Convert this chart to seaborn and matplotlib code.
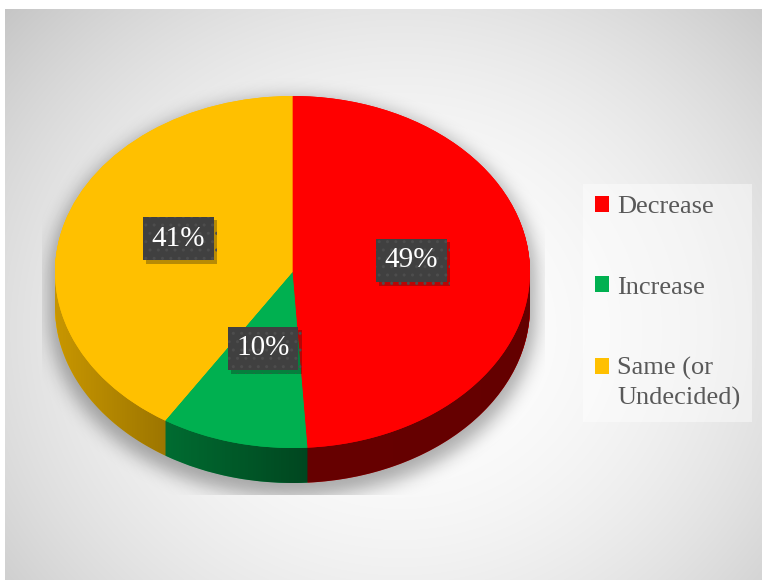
import numpy as np
import matplotlib
matplotlib.use("Agg")
import matplotlib.pyplot as plt
import matplotlib.patheffects as pe
from matplotlib.path import Path
from matplotlib.patches import PathPatch
import seaborn as sns

# ---- data -------------------------------------------------------------
categories = ["Decrease", "Increase", "Same (or\nUndecided)"]
shares = [49, 10, 41]
slice_colors = ["#ff0000", "#00b050", "#ffc000"]

sns.set_theme(style="white")
plt.rcParams["font.family"] = ["Liberation Serif", "DejaVu Serif"]

W, H = 762, 580
fig = plt.figure(figsize=(W / 100, H / 100), dpi=100, facecolor="white")

# ---- background panel with a soft radial gradient (pixel coordinates) --
bg = fig.add_axes([0, 0, 1, 1], zorder=0)
bg.axis("off")
yy, xx = np.mgrid[0:H, 0:W] + 0.5
d2 = ((xx - 400) / 420) ** 2 + ((yy - 330) / 380) ** 2
shade = np.clip(255 - 36 * d2, 0, 255) / 255.0
panel = np.dstack([shade] * 3)[9:, 5:]
bg.imshow(panel, extent=(5, W, H, 9), interpolation="bilinear", zorder=0)

# pie geometry on the page
cx, cy, rx, ry, depth_px = 292.5, 272.0, 237.5, 176.0, 35.0


def blur(a, s):
    r = int(3 * s)
    k = np.exp(-0.5 * (np.arange(-r, r + 1) / s) ** 2)
    k /= k.sum()
    a = np.apply_along_axis(lambda v: np.convolve(v, k, mode="same"), 0, a)
    a = np.apply_along_axis(lambda v: np.convolve(v, k, mode="same"), 1, a)
    return a


# soft drop shadow under the disc, clipped to the plot area
grow, drop = 6.0, 8.0
top_e = ((xx - cx) / (rx + grow)) ** 2 + ((yy - cy - drop) / (ry + grow)) ** 2 <= 1
bot_e = ((xx - cx) / (rx + grow)) ** 2 + ((yy - cy - drop - depth_px) / (ry + grow)) ** 2 <= 1
band = (np.abs(xx - cx) <= rx + grow) & (yy >= cy + drop) & (yy <= cy + drop + depth_px)
mask = blur((top_e | bot_e | band).astype(float), 9.0)
mask[(xx < 42) | (xx > 545) | (yy > 495)] = 0
shadow = np.zeros((H, W, 4))
shadow[..., 3] = 0.32 * mask
bg.imshow(shadow, extent=(0, W, H, 0), interpolation="bilinear", zorder=1)
bg.set_aspect("auto")
bg.set_xlim(0, W)
bg.set_ylim(H, 0)

# ---- pie axes: unit circle stretched into the tilted ellipse -------------
depth = depth_px / ry
xlim = (-1.1, 1.1)
ylim = (-1 - depth - 0.1, 1.1)
left_px, right_px = cx + xlim[0] * rx, cx + xlim[1] * rx
top_px, bottom_px = cy - ylim[1] * ry, cy - ylim[0] * ry
ax = fig.add_axes([left_px / W, 1 - bottom_px / H,
                   (right_px - left_px) / W, (bottom_px - top_px) / H], zorder=1)

# side wall: stacked copies of the pie stepping down by the disc thickness
n_layers = 70
for i in range(n_layers + 1):
    off = -depth * (1 - i / n_layers)
    ax.pie(shares, colors=slice_colors, startangle=90, counterclock=False,
           center=(0, off), wedgeprops=dict(linewidth=0, zorder=1))

# lighting on the side wall: brighter on the left, darker towards the right
t = np.linspace(np.pi, 2 * np.pi, 200)
upper = np.column_stack([np.cos(t), np.sin(t)])
lower = np.column_stack([np.cos(t[::-1]), np.sin(t[::-1]) - depth])
side_path = Path(np.vstack([upper, lower, upper[:1]]), closed=True)
side_patch = PathPatch(side_path, transform=ax.transData, facecolor="none", edgecolor="none")
ax.add_patch(side_patch)
gx = np.linspace(-1, 1, 400)
keep = np.interp(gx, [-1.0, 0.05, 1.0], [0.78, 0.40, 0.39])
light = np.zeros((1, gx.size, 4))
light[0, :, 3] = 1 - keep
im = ax.imshow(light, extent=(-1, 1, -1 - depth, 0), aspect="auto",
               interpolation="bilinear", zorder=2)
im.set_clip_path(side_patch)

# top face with percentage labels
wedges, _, autotexts = ax.pie(
    shares, colors=slice_colors, startangle=90, counterclock=False,
    autopct=lambda p: f"{p:.0f}%", pctdistance=0.5,
    wedgeprops=dict(linewidth=0, zorder=3),
    textprops=dict(color="white", fontsize=21, zorder=6),
)
for txt in autotexts:
    x, y = txt.get_position()
    txt.set_position((x, y + 0.05))
    txt.set_bbox(dict(boxstyle="square,pad=0.3", facecolor="#404040",
                      edgecolor="#4d4d4d", linewidth=0, hatch=".."))
    txt.get_bbox_patch().set_path_effects(
        [pe.SimplePatchShadow(offset=(2.5, -2.5), alpha=0.3), pe.Normal()])

ax.set_aspect("auto")
ax.set_xlim(*xlim)
ax.set_ylim(*ylim)
ax.set_frame_on(False)
ax.set_xticks([])
ax.set_yticks([])

# ---- legend ---------------------------------------------------------------
leg = ax.legend(
    wedges, categories, loc="upper left",
    bbox_to_anchor=(583 / W, 1 - 184 / H), bbox_transform=fig.transFigure,
    frameon=True, fancybox=False, facecolor="white", edgecolor="none",
    framealpha=0.45, fontsize=19, labelcolor="#595959",
    handlelength=0.55, handleheight=0.55, handletextpad=0.3,
    labelspacing=2.2, borderpad=0.45, borderaxespad=0,
)
for txt in leg.get_texts():
    txt.set_linespacing(1.4)
leg.set_zorder(10)
h3 = leg.legend_handles[2]
h3.set_y(h3.get_y() + 12.0)

fig.savefig("out.png", dpi=100, facecolor="white")
